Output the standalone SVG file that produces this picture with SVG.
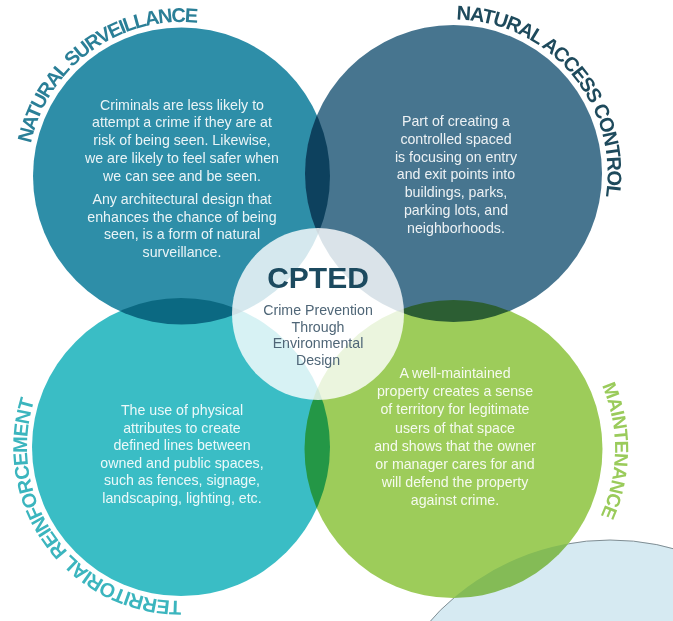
<svg xmlns="http://www.w3.org/2000/svg" width="673" height="621" viewBox="0 0 673 621">
<style>
.bg{fill:#ffffff}
.c{mix-blend-mode:multiply}
.body{font-family:"Liberation Sans",Arial,Helvetica,sans-serif;font-size:14.2px;fill:#ffffff;fill-opacity:.9;text-anchor:middle}
.lab{font-family:"Liberation Sans",Arial,Helvetica,sans-serif;font-weight:bold;text-anchor:middle}
.sub{font-family:"Liberation Sans",Arial,Helvetica,sans-serif;font-size:14.2px;fill:#4f6677;text-anchor:middle}
</style>
<defs>
<path id="arc-ns" d="M27.84,165.79 A154,154 0 0 1 218.23,26.45"/>
<path id="arc-nac" d="M447.19,19.63 A154,154 0 0 1 604.33,204.59"/>
<path id="arc-tr" d="M187.45,600.86 A154,154 0 0 1 35.92,395.34"/>
<path id="arc-m" d="M578.12,346.27 A161.5,161.5 0 0 1 576.31,553.89"/>
<clipPath id="outside-green">
<path clip-rule="evenodd" d="M0,0H673V621H0Z M304.5,449 a149,149 0 1 0 298,0 a149,149 0 1 0 -298,0Z"/>
</clipPath>
</defs>
<rect class="bg" x="0" y="0" width="673" height="621"/>
<g id="background-shape">
<circle cx="610" cy="780" r="240" fill="#d6eaf2"/>
</g>
<g id="natural-surveillance">
<circle class="c" cx="181.5" cy="176" r="148.5" fill="#2e8ea8"/>
<text class="lab" font-size="20" letter-spacing="-1.6" fill="#2a7f97"><textPath href="#arc-ns" startOffset="50%">NATURAL SURVEILLANCE</textPath></text>
<text class="body" x="182" y="109.5">Criminals are less likely to</text>
<text class="body" x="182" y="127.3">attempt a crime if they are at</text>
<text class="body" x="182" y="145.1">risk of being seen. Likewise,</text>
<text class="body" x="182" y="162.9">we are likely to feel safer when</text>
<text class="body" x="182" y="180.7">we can see and be seen.</text>
<text class="body" x="182" y="204">Any architectural design that</text>
<text class="body" x="182" y="221.7">enhances the chance of being</text>
<text class="body" x="182" y="239.4">seen, is a form of natural</text>
<text class="body" x="182" y="257">surveillance.</text>
</g>
<g id="natural-access-control">
<circle class="c" cx="453.5" cy="173.5" r="148.5" fill="#47758f"/>
<text class="lab" font-size="20" letter-spacing="-1.2" fill="#1e4a5c"><textPath href="#arc-nac" startOffset="50%">NATURAL ACCESS CONTROL</textPath></text>
<text class="body" x="456" y="126">Part of creating a</text>
<text class="body" x="456" y="143.8">controlled spaced</text>
<text class="body" x="456" y="161.6">is focusing on entry</text>
<text class="body" x="456" y="179.4">and exit points into</text>
<text class="body" x="456" y="197.2">buildings, parks,</text>
<text class="body" x="456" y="215">parking lots, and</text>
<text class="body" x="456" y="232.8">neighborhoods.</text>
</g>
<g id="territorial-reinforcement">
<circle class="c" cx="181" cy="447" r="149" fill="#3abdc5"/>
<text class="lab" font-size="20" letter-spacing="-1" fill="#3bb5be"><textPath href="#arc-tr" startOffset="50%">TERRITORIAL REINFORCEMENT</textPath></text>
<text class="body" x="182" y="415">The use of physical</text>
<text class="body" x="182" y="432.6">attributes to create</text>
<text class="body" x="182" y="450.2">defined lines between</text>
<text class="body" x="182" y="467.8">owned and public spaces,</text>
<text class="body" x="182" y="485.4">such as fences, signage,</text>
<text class="body" x="182" y="503">landscaping, lighting, etc.</text>
</g>
<g id="maintenance">
<circle class="c" cx="453.5" cy="449" r="149" fill="#9dcc5a"/>
<text class="lab" font-size="19" letter-spacing="-0.6" fill="#9acb5b"><textPath href="#arc-m" startOffset="50%">MAINTENANCE</textPath></text>
<text class="body" x="455" y="378">A well-maintained</text>
<text class="body" x="455" y="396.2">property creates a sense</text>
<text class="body" x="455" y="414.4">of territory for legitimate</text>
<text class="body" x="455" y="432.6">users of that space</text>
<text class="body" x="455" y="450.8">and shows that the owner</text>
<text class="body" x="455" y="469">or manager cares for and</text>
<text class="body" x="455" y="487.2">will defend the property</text>
<text class="body" x="455" y="505.4">against crime.</text>
</g>
<g id="background-shape-edge" clip-path="url(#outside-green)">
<circle cx="610" cy="780" r="240" fill="none" stroke="#7f8d93" stroke-width="1"/>
</g>
<g id="connectors"/>
<g id="cpted">
<circle cx="318" cy="314" r="86" fill="#ffffff" fill-opacity="0.8"/>
<text x="318" y="288" font-family="'Liberation Sans',Arial,Helvetica,sans-serif" font-weight="bold" font-size="30" fill="#1c4a5f" text-anchor="middle">CPTED</text>
<text class="sub" x="318" y="315">Crime Prevention</text>
<text class="sub" x="318" y="331.5">Through</text>
<text class="sub" x="318" y="348">Environmental</text>
<text class="sub" x="318" y="364.5">Design</text>
</g>
</svg>
